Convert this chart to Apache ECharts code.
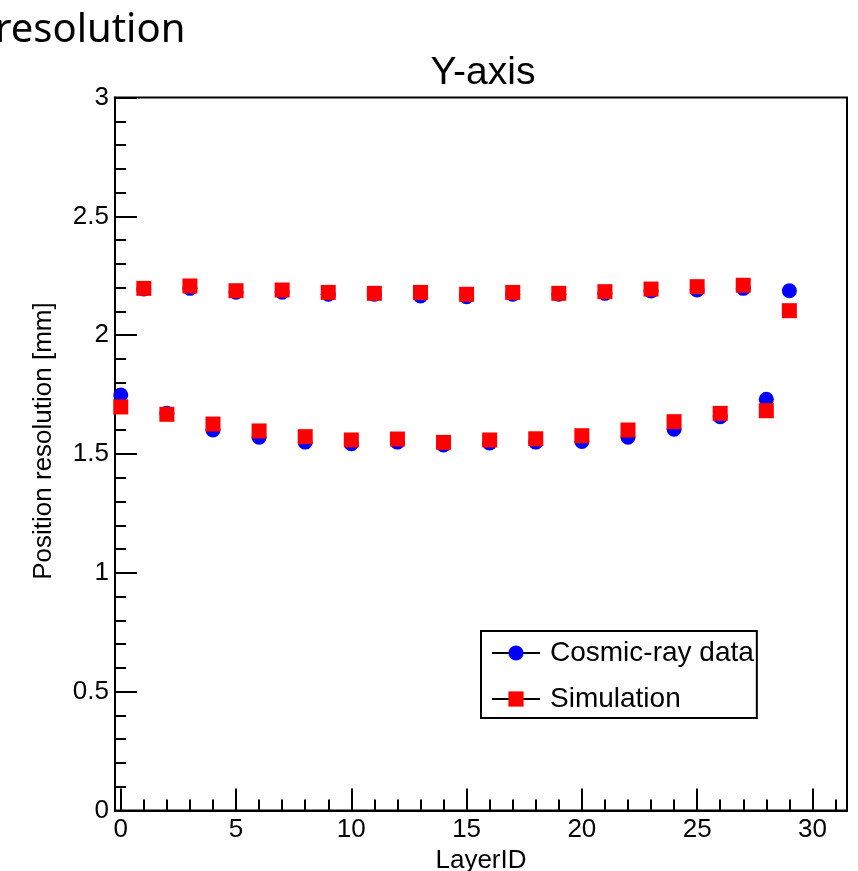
<!DOCTYPE html>
<html>
<head>
<meta charset="utf-8">
<script src="https://cdn.jsdelivr.net/npm/echarts@6/dist/echarts.min.js"></script>
<style>
html,body{margin:0;padding:0;background:#fff;}
#chart{width:858px;height:871px;}
</style>
</head>
<body>
<div id="chart"></div>
<script>
var layerIds = [0,1,2,3,4,5,6,7,8,9,10,11,12,13,14,15,16,17,18,19,20,21,22,23,24,25,26,27,28,29];
var cosmicData = [1.748,2.194,1.671,2.197,1.601,2.181,1.571,2.181,1.550,2.172,1.543,2.172,1.550,2.165,1.538,2.162,1.546,2.172,1.550,2.172,1.553,2.176,1.571,2.186,1.604,2.190,1.657,2.197,1.730,2.187];
var simulationData = [1.698,2.197,1.667,2.207,1.626,2.187,1.597,2.190,1.573,2.180,1.559,2.176,1.563,2.180,1.549,2.172,1.559,2.180,1.564,2.176,1.577,2.183,1.601,2.194,1.636,2.204,1.671,2.210,1.682,2.103];
var xMajorTicks = [0,5,10,15,20,25,30];
var xMinorTicks = [1,2,3,4,6,7,8,9,11,12,13,14,16,17,18,19,21,22,23,24,26,27,28,29,31];
var seriesNames = ['Cosmic-ray data','Simulation'];
var pageTitle = 'resolution';
var plotTitle = 'Y-axis';
var xTitle = 'LayerID';
var yTitle = 'Position resolution [mm]';

var font = '"Liberation Sans", Arial, Helvetica, sans-serif';
var chart = echarts.init(document.getElementById('chart'), null, {renderer:'canvas'});

function pairs(vals){ return layerIds.map(function(x,i){ return [x, vals[i]]; }); }

var option = {
  animation: false,
  backgroundColor: '#fff',
  grid: {left: 115, right: 11, top: 97.5, bottom: 60.5, show: true, borderColor: '#000', borderWidth: 2, containLabel: false, outerBoundsMode: 'none'},
  graphic: [
    {type:'text', x:-5, y:31, style:{text: pageTitle, fontFamily:'"Noto Sans", sans-serif', fontSize:40, fill:'#000', textAlign:'left', textVerticalAlign:'middle'}},
    {type:'text', x:483, y:73, style:{text: plotTitle, fontFamily: font, fontSize:39, fill:'#000', textAlign:'center', textVerticalAlign:'middle'}},
    {type:'text', x:44, y:441, rotation: Math.PI/2, style:{text: yTitle, fontFamily: font, fontSize:26, fill:'#000', textAlign:'center', textVerticalAlign:'middle'}}
  ],
  legend: {
    orient: 'vertical',
    left: 481, top: 631,
    data: seriesNames,
    itemWidth: 48, itemHeight: 19, itemGap: 18,
    padding: [8, 3, 5, 10],
    borderColor: '#000', borderWidth: 2, borderRadius: 0,
    backgroundColor: '#fff',
    textStyle: {fontFamily: font, fontSize: 28, color: '#000', padding:[0,0,0,5]},
    lineStyle: {color: '#000', width: 2, opacity: 1},
    selectedMode: false
  },
  xAxis: [
    {
      type: 'value', min: -0.25, max: 31.5, position: 'bottom',
      name: xTitle, nameLocation: 'middle', nameGap: 29,
      nameTextStyle: {fontFamily: font, fontSize: 26, color: '#000'},
      axisLine: {show: true, onZero: false, lineStyle: {color: '#000', width: 2}},
      axisTick: {show: true, inside: true, length: 22, customValues: xMajorTicks, lineStyle: {color: '#000', width: 2}},
      axisLabel: {show: true, customValues: xMajorTicks, margin: 6, fontFamily: font, fontSize: 26, color: '#000'},
      splitLine: {show: false}
    },
    {
      type: 'value', min: -0.25, max: 31.5, position: 'bottom',
      axisLine: {show: false},
      axisTick: {show: true, inside: true, length: 11, customValues: xMinorTicks, lineStyle: {color: '#000', width: 2}},
      axisLabel: {show: false},
      splitLine: {show: false}
    }
  ],
  yAxis: {
    type: 'value', min: 0, max: 3, interval: 0.5,
    axisLine: {show: true, onZero: false, lineStyle: {color: '#000', width: 2}},
    axisTick: {show: true, inside: true, length: 22, lineStyle: {color: '#000', width: 2}},
    minorTick: {show: true, splitNumber: 5, length: 11, lineStyle: {color: '#000', width: 2}},
    axisLabel: {margin: 6, fontFamily: font, fontSize: 26, color: '#000'},
    splitLine: {show: false}
  },
  series: [
    {
      name: seriesNames[0], type: 'line', xAxisIndex: 0, data: pairs(cosmicData),
      symbol: 'circle', symbolSize: 15, showSymbol: true,
      lineStyle: {width: 0, opacity: 0},
      itemStyle: {color: '#0000ff'},
      emphasis: {disabled: true}, z: 2
    },
    {
      name: seriesNames[1], type: 'line', xAxisIndex: 0, data: pairs(simulationData),
      symbol: 'rect', symbolSize: 15, showSymbol: true,
      lineStyle: {width: 0, opacity: 0},
      itemStyle: {color: '#ff0000'},
      emphasis: {disabled: true}, z: 3
    }
  ]
};
chart.setOption(option);
</script>
</body>
</html>
